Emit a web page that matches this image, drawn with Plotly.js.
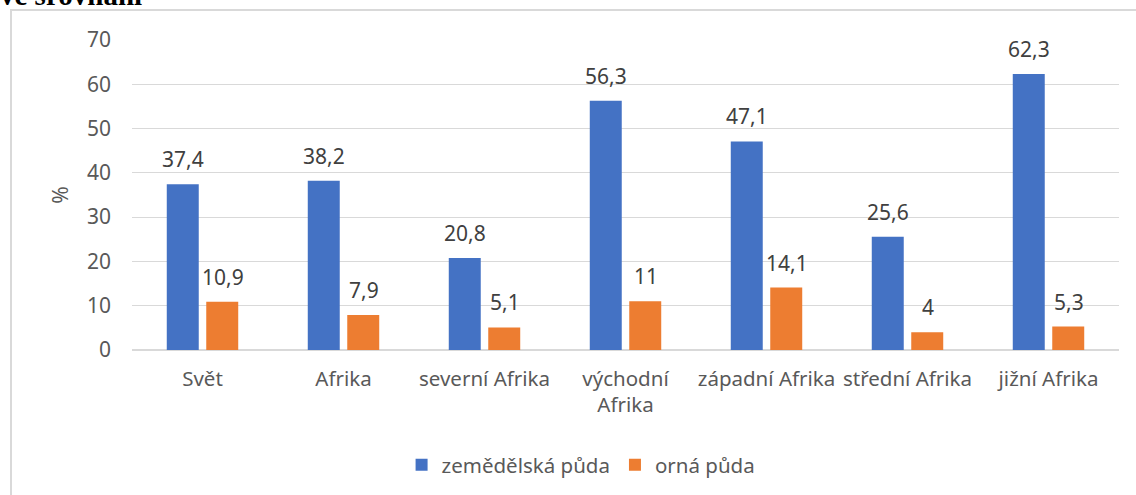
<!DOCTYPE html>
<html>
<head>
<meta charset="utf-8">
<script src="https://cdn.plot.ly/plotly-3.0.1.min.js"></script>
<style>
  html, body { margin: 0; padding: 0; background: #ffffff; width: 1136px; height: 495px; overflow: hidden; }
  #heading { position: absolute; left: 0px; top: -19px; font-family: "Liberation Serif", "Times New Roman", serif; font-weight: bold; font-size: 29px; line-height: 29px; color: #000; white-space: nowrap; }
  #frame { position: absolute; left: 10px; top: 9px; width: 1300px; height: 700px; border: 2px solid #d9d9d9; }
  #chart { position: absolute; left: 0; top: 0; width: 1136px; height: 495px; }
</style>
</head>
<body>
<div id="heading">ve srovnání</div>
<div id="frame"></div>
<div id="chart"></div>
<script>
const categories = ["Svět", "Afrika", "severní Afrika", "východní<br>Afrika", "západní Afrika", "střední Afrika", "jižní Afrika"];
const zemedelskaPuda = [37.4, 38.2, 20.8, 56.3, 47.1, 25.6, 62.3];
const ornaPuda = [10.9, 7.9, 5.1, 11, 14.1, 4, 5.3];
const seriesNames = ["zemědělská půda", "orná půda"];
const yTicks = [0, 10, 20, 30, 40, 50, 60, 70];

const fontFamily = '"Noto Sans", "Open Sans", sans-serif';
const colors = ["#4472C4", "#ED7D31"];
const seriesValues = [zemedelskaPuda, ornaPuda];

const traces = seriesValues.map((vals, i) => ({
  type: "bar",
  name: seriesNames[i],
  x: categories,
  y: vals,
  marker: { color: colors[i] },
  hoverinfo: "skip"
}));

const fmt = v => String(v).replace(".", ",");
const annotations = [];
seriesValues.forEach((vals, i) => {
  vals.forEach((v, j) => {
    annotations.push({
      x: categories[j], y: v, xref: "x", yref: "y",
      text: fmt(v), showarrow: false,
      xshift: i === 0 ? -20 : 20, yshift: 9,
      yanchor: "bottom",
      font: { family: fontFamily, size: 21, color: "#404040" }
    });
  });
});

const layout = {
  width: 1136, height: 495,
  margin: { l: 132, r: 17, t: 40, b: 144 },
  paper_bgcolor: "rgba(0,0,0,0)",
  plot_bgcolor: "rgba(0,0,0,0)",
  barmode: "group",
  bargap: 0.44,
  bargroupgap: 0.19,
  separators: ", ",
  font: { family: fontFamily, size: 20.5, color: "#595959" },
  xaxis: {
    type: "category",
    tickangle: 0,
    showgrid: false,
    showline: false,
    ticks: "",
    ticklabelstandoff: 14,
    tickfont: { family: fontFamily, size: 20.5, color: "#595959" }
  },
  yaxis: {
    range: [0, 70],
    tickvals: yTicks,
    ticktext: yTicks.map(String),
    showgrid: true,
    gridcolor: "#d9d9d9",
    gridwidth: 1,
    zeroline: true,
    zerolinecolor: "#d9d9d9",
    zerolinewidth: 2,
    showline: false,
    ticks: "",
    ticklabelstandoff: 20,
    tickfont: { family: fontFamily, size: 21, color: "#595959" },
    title: { text: "%", standoff: 12, font: { family: fontFamily, size: 21, color: "#595959" } }
  },
  legend: {
    orientation: "h",
    x: 0.455, xanchor: "center",
    y: -0.366, yanchor: "middle",
    font: { family: fontFamily, size: 20.5, color: "#595959" },
    traceorder: "normal",
    itemwidth: 30
  },
  annotations: annotations,
  showlegend: true
};

Plotly.newPlot("chart", traces, layout, { displayModeBar: false, staticPlot: true });
</script>
</body>
</html>
